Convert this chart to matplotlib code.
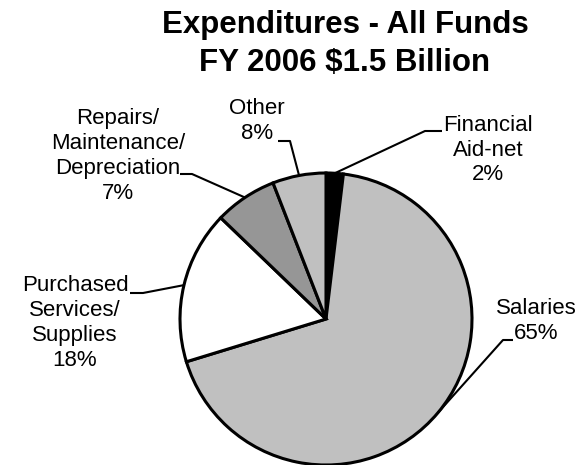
import math
import matplotlib
matplotlib.use("Agg")
import matplotlib.pyplot as plt

plt.rcParams['font.family'] = ['Liberation Sans', 'DejaVu Sans']

# wedge shares as drawn (clockwise from the top), printed labels as shown
categories = ["Financial\nAid-net", "Salaries", "Purchased\nServices/\nSupplies",
              "Repairs/\nMaintenance/\nDepreciation", "Other"]
shares = [1.9, 68.3, 16.9, 6.9, 5.9]
pct_labels = ["2%", "65%", "18%", "7%", "8%"]
colors = ["#000000", "#c0c0c0", "#ffffff", "#969696", "#c0c0c0"]

W, H = 585, 465
fig = plt.figure(figsize=(W / 100, H / 100), dpi=100)
ax = fig.add_axes([0, 0, 1, 1])

cx, cy, r = 326, H - 319, 146
wedges, _ = ax.pie(shares, colors=colors, startangle=90, counterclock=False,
                   center=(cx, cy), radius=r, frame=True,
                   wedgeprops=dict(edgecolor='black', linewidth=2.2))
ax.set_xlim(0, W)
ax.set_ylim(0, H)
ax.set_aspect('equal')
ax.axis('off')

# label layout in pixel coords (y down): text centre, elbow, end of horizontal tick
layout = [
    ((488, 150), (425, 131), (442, 131)),
    ((536, 321), (503, 340), (513, 340)),
    ((75, 323), (143, 293), (130, 293)),
    ((118, 156), (192, 174), (180, 174)),
    ((257, 121), (290, 141), (278, 141)),
]

for w, cat, pct, (txt, elbow, tick) in zip(wedges, categories, pct_labels, layout):
    mid = math.radians((w.theta1 + w.theta2) / 2)
    ex, ey = cx + r * math.cos(mid), cy + r * math.sin(mid)
    ax.plot([ex, elbow[0], tick[0]], [ey, H - elbow[1], H - tick[1]],
            color='black', lw=1.5, solid_capstyle='butt', zorder=3)
    ax.text(txt[0], H - txt[1], cat + "\n" + pct, ha='center', va='center',
            fontsize=16, linespacing=1.24)

ax.text(345, H - 44, "Expenditures - All Funds\nFY 2006 $1.5 Billion",
        ha='center', va='center', fontsize=22.5, fontweight='bold', linespacing=1.38)

fig.savefig("out.png", dpi=100)
